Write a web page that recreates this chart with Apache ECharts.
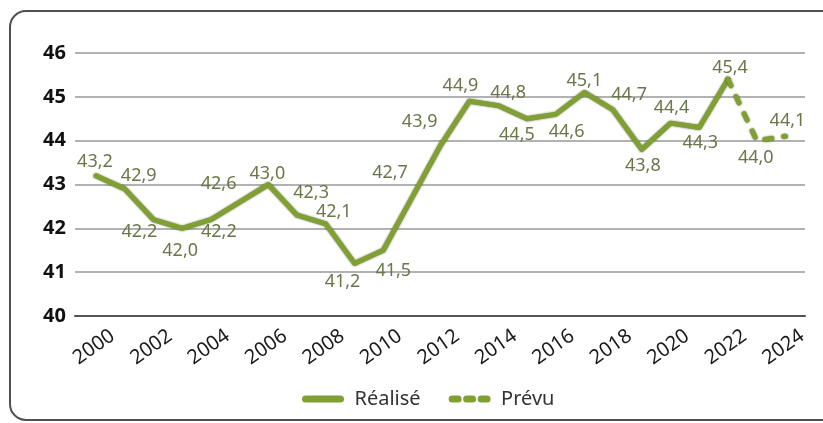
<!DOCTYPE html>
<html>
<head>
<meta charset="utf-8">
<script src="https://cdn.jsdelivr.net/npm/echarts@6/dist/echarts.min.js"></script>
<style>
html,body{margin:0;padding:0;background:#fff;}
#chart{width:823px;height:423px;}
</style>
</head>
<body>
<div id="chart"></div>
<script>
// ---- data ----
const realiseYears = [2000,2001,2002,2003,2004,2005,2006,2007,2008,2009,2010,2011,2012,2013,2014,2015,2016,2017,2018,2019,2020,2021,2022];
const realiseValues = [43.2,42.9,42.2,42.0,42.2,42.6,43.0,42.3,42.1,41.2,41.5,42.7,43.9,44.9,44.8,44.5,44.6,45.1,44.7,43.8,44.4,44.3,45.4];
const prevuYears = [2022,2023,2024];
const prevuValues = [45.4,44.0,44.1];
const tickLabels = [2000,2002,2004,2006,2008,2010,2012,2014,2016,2018,2020,2022,2024];

// ---- label placement (style) ----
const realiseLabelOffsets = [
  [-1,-14],[14,-13],[-14,12],[-2,23],[8,12],[-21,-18],[-1,-11],[14,-22],[8,-12],
  [-12,18],[10,21],[-22,-25],[-21,-23],[-9,-15],[10,-13],[-10,16],[11,18],[0,-12],
  [16,-15],[1,16],[1,-15],[1,15],[2,-11]
];
const prevuLabelOffsets = [null,[-1,17],[2,-15]];

const fmt = v => v.toFixed(1).replace('.', ',');
const labelColor = '#6a774a';
const lineColor = '#80a034';
const font = 'Noto Sans';
const labelShift = 0.58;

function buildData(xs, ys, offs) {
  return xs.map((x, i) => {
    const d = { value: [x, ys[i]] };
    d.label = offs[i] ? { show: true, position: 'inside', offset: offs[i] } : { show: false };
    return d;
  });
}

const chart = echarts.init(document.getElementById('chart'), null, {renderer:'canvas'});
chart.setOption({
  animation: false,
  backgroundColor: '#fff',
  textStyle: { fontFamily: font },
  graphic: [{
    type: 'rect', z: 100, silent: true,
    shape: { x: 10, y: 11, width: 832, height: 409, r: 16 },
    style: { fill: 'none', stroke: '#505050', lineWidth: 2 }
  }],
  grid: { left: 75, right: 18, top: 53, bottom: 107, containLabel: false },
  xAxis: {
    type: 'value',
    min: 1999.27, max: 2024.68,
    splitLine: { show: false },
    axisLine: { show: true, lineStyle: { color: '#555', width: 2 } },
    axisTick: { show: false },
    axisLabel: {
      customValues: tickLabels.map(v => v + labelShift),
      formatter: v => String(Math.floor(v)),
      rotate: 35, margin: 18,
      fontSize: 20, color: '#1a1a1a', fontFamily: font
    }
  },
  yAxis: {
    type: 'value', min: 40, max: 46, interval: 1,
    axisLine: { show: false },
    axisTick: { show: false },
    axisLabel: { fontSize: 20, fontWeight: 'bold', color: '#111', margin: 9, fontFamily: font },
    splitLine: { show: true, lineStyle: { color: '#999', width: 1.5 } }
  },
  legend: {
    left: 297, top: 384,
    itemWidth: 35, itemHeight: 8, itemGap: 28,
    lineStyle: { width: 7, cap: 'round' },
    textStyle: { fontSize: 20, color: '#333', fontFamily: font, padding: [0, 0, 0, 9] },
    data: [
      { name: 'Réalisé' },
      { name: 'Prévu', lineStyle: { type: [6, 8.5], width: 7, cap: 'round' } }
    ]
  },
  series: [
    {
      name: 'Réalisé', type: 'line',
      data: buildData(realiseYears, realiseValues, realiseLabelOffsets),
      symbol: 'circle', symbolSize: 1, showSymbol: true,
      itemStyle: { color: lineColor, opacity: 0 },
      lineStyle: { color: lineColor, width: 5, cap: 'round', join: 'round',
                   shadowColor: 'rgba(55,70,15,0.85)', shadowBlur: 2 },
      label: { show: true, opacity: 1, formatter: p => fmt(p.value[1]), fontSize: 18, color: labelColor, fontFamily: font },
      emphasis: { disabled: true },
      z: 3
    },
    {
      name: 'Prévu', type: 'line',
      data: buildData(prevuYears, prevuValues, prevuLabelOffsets),
      symbol: 'circle', symbolSize: 1, showSymbol: true,
      itemStyle: { color: lineColor, opacity: 0 },
      lineStyle: { color: lineColor, width: 5, type: [7, 12], cap: 'round', join: 'round',
                   shadowColor: 'rgba(55,70,15,0.85)', shadowBlur: 2 },
      label: { show: true, opacity: 1, formatter: p => fmt(p.value[1]), fontSize: 18, color: labelColor, fontFamily: font },
      emphasis: { disabled: true },
      z: 3
    }
  ]
});
</script>
</body>
</html>
